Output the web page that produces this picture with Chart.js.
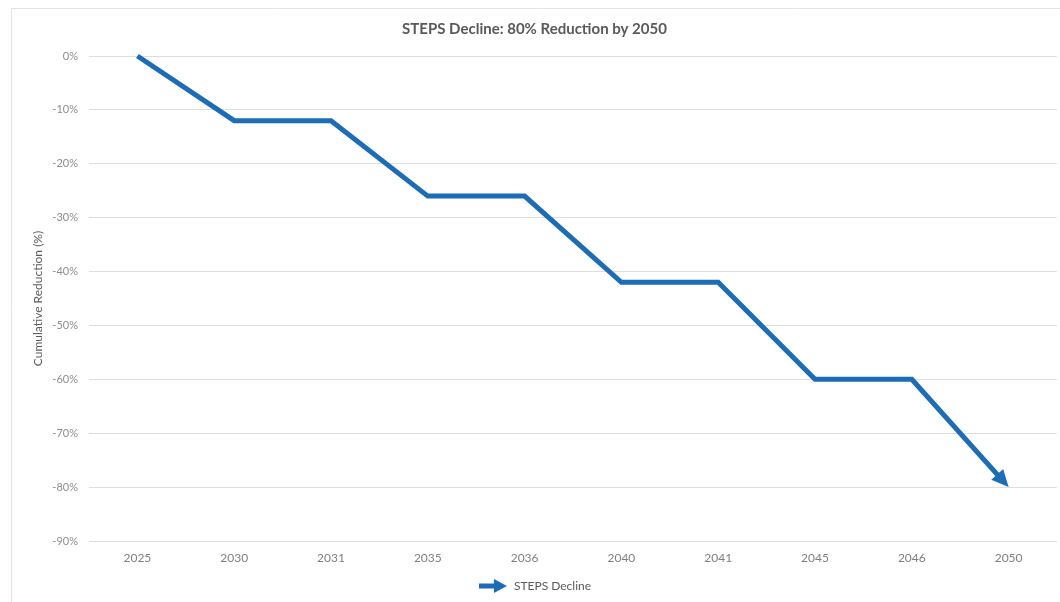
<!DOCTYPE html>
<html>
<head>
<meta charset="utf-8">
<script src="https://cdn.jsdelivr.net/npm/chart.js@4.4.1/dist/chart.umd.min.js"></script>
<style>
  html, body { margin: 0; padding: 0; background: #ffffff; }
  #wrap { width: 1060px; height: 602px; position: relative; }
</style>
</head>
<body>
<div id="wrap"><canvas id="c" width="1060" height="602"></canvas></div>
<script>
// ---- data ----
const categories = ['2025', '2030', '2031', '2035', '2036', '2040', '2041', '2045', '2046', '2050'];
const stepsDecline = [0, -12, -12, -26, -26, -42, -42, -60, -60, -80];
const seriesName = 'STEPS Decline';
const chartTitle = 'STEPS Decline: 80% Reduction by 2050';
const yAxisTitle = 'Cumulative Reduction (%)';
const yMin = -90, yMax = 0, yStep = 10;

const LINE_COLOR = '#1c6db5';
const FONT = 'Lato, "Open Sans", sans-serif';

// legend icon: an arrow
function makeArrowIcon() {
  const cv = document.createElement('canvas');
  cv.width = 30; cv.height = 16;
  const g = cv.getContext('2d');
  g.fillStyle = LINE_COLOR;
  g.fillRect(1, 5.5, 17, 5);
  g.beginPath();
  g.moveTo(29, 8);
  g.lineTo(16, 1);
  g.lineTo(16, 15);
  g.closePath();
  g.fill();
  return cv;
}
const arrowIcon = makeArrowIcon();

function arrowGeom(chart) {
  const meta = chart.getDatasetMeta(0);
  const pts = meta.data;
  if (!pts || pts.length < 2) return null;
  const a = pts[pts.length - 2], b = pts[pts.length - 1];
  const dx = b.x - a.x, dy = b.y - a.y;
  const len = Math.hypot(dx, dy) || 1;
  const ux = dx / len, uy = dy / len;
  return { tx: b.x, ty: b.y, ux, uy, nx: -uy, ny: ux };
}

const arrowPlugin = {
  id: 'arrowEnd',
  beforeDatasetDraw(chart) {
    const g = arrowGeom(chart);
    const ctx = chart.ctx;
    ctx.save();
    if (!g) return;
    ctx.beginPath();
    ctx.rect(0, 0, chart.width, chart.height);
    const f = 4, bk = 7, w = 7;
    ctx.moveTo(g.tx + g.ux * f + g.nx * w, g.ty + g.uy * f + g.ny * w);
    ctx.lineTo(g.tx + g.ux * f - g.nx * w, g.ty + g.uy * f - g.ny * w);
    ctx.lineTo(g.tx - g.ux * bk - g.nx * w, g.ty - g.uy * bk - g.ny * w);
    ctx.lineTo(g.tx - g.ux * bk + g.nx * w, g.ty - g.uy * bk + g.ny * w);
    ctx.closePath();
    ctx.clip('evenodd');
  },
  afterDatasetDraw(chart) {
    const ctx = chart.ctx;
    ctx.restore();
    const g = arrowGeom(chart);
    if (!g) return;
    const L = 17, W = 8;
    ctx.save();
    ctx.fillStyle = LINE_COLOR;
    ctx.beginPath();
    ctx.moveTo(g.tx, g.ty);
    ctx.lineTo(g.tx - g.ux * L + g.nx * W, g.ty - g.uy * L + g.ny * W);
    ctx.lineTo(g.tx - g.ux * L - g.nx * W, g.ty - g.uy * L - g.ny * W);
    ctx.closePath();
    ctx.fill();
    ctx.restore();
  }
};

const framePlugin = {
  id: 'frame',
  beforeDraw(chart) {
    const ctx = chart.ctx;
    ctx.save();
    ctx.fillStyle = '#ffffff';
    ctx.fillRect(0, 0, chart.width, chart.height);
    ctx.strokeStyle = '#e3e3e3';
    ctx.lineWidth = 1;
    ctx.beginPath();
    ctx.moveTo(11.5, chart.height + 2);
    ctx.lineTo(11.5, 8.5);
    ctx.lineTo(chart.width + 2, 8.5);
    ctx.stroke();
    ctx.restore();
  }
};

new Chart(document.getElementById('c'), {
  type: 'line',
  data: {
    labels: categories,
    datasets: [{
      label: seriesName,
      data: stepsDecline,
      borderColor: LINE_COLOR,
      backgroundColor: LINE_COLOR,
      borderWidth: 5,
      borderJoinStyle: 'miter',
      borderCapStyle: 'butt',
      pointRadius: 0,
      pointHoverRadius: 0,
      pointStyle: arrowIcon,
      tension: 0,
      fill: false,
      clip: false
    }]
  },
  options: {
    responsive: false,
    animation: false,
    layout: { padding: { left: 12, right: 3, top: 9, bottom: 0 } },
    plugins: {
      title: {
        display: true,
        text: chartTitle,
        color: '#595959',
        font: { family: FONT, size: 15, weight: 'bold' },
        padding: { top: 11, bottom: 18 }
      },
      legend: {
        display: true,
        position: 'bottom',
        labels: {
          usePointStyle: true,
          pointStyleWidth: 30,
          color: '#595959',
          font: { family: FONT, size: 12 },
          padding: 8
        }
      },
      tooltip: { enabled: false }
    },
    scales: {
      x: {
        offset: true,
        grid: { display: false, drawTicks: false },
        border: { display: false },
        ticks: {
          color: '#7f7f7f',
          font: { family: FONT, size: 12 },
          padding: 10,
          maxRotation: 0
        },
        afterFit(scale) { scale.height = 31; }
      },
      y: {
        min: yMin,
        max: yMax,
        grid: { color: '#dedede', lineWidth: 1, drawTicks: false },
        border: { display: false },
        ticks: {
          stepSize: yStep,
          color: '#8c8c8c',
          font: { family: FONT, size: 11 },
          padding: 11,
          callback: (v) => v + '%'
        },
        title: {
          display: true,
          text: yAxisTitle,
          color: '#595959',
          font: { family: FONT, size: 12 },
          padding: { top: 19, bottom: 10 }
        },
        afterFit(scale) { scale.width = 77; }
      }
    }
  },
  plugins: [framePlugin, arrowPlugin]
});
</script>
</body>
</html>
